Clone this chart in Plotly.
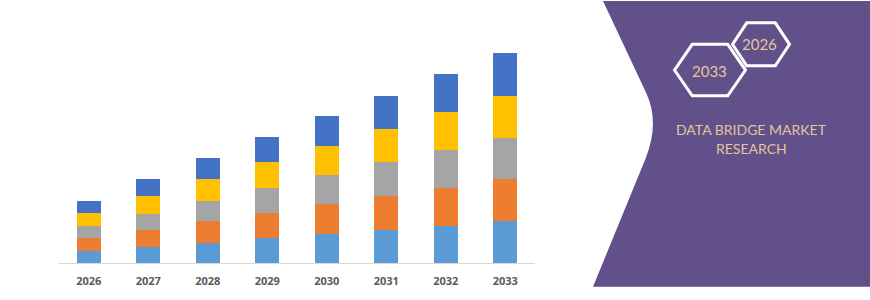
import plotly.graph_objects as go

years = ["2026", "2027", "2028", "2029", "2030", "2031", "2032", "2033"]
seg1 = [1.27, 1.73, 2.10, 2.60, 3.07, 3.43, 3.93, 4.43]   # light blue (bottom)
seg2 = [1.37, 1.77, 2.33, 2.63, 3.10, 3.57, 3.97, 4.40]   # orange
seg3 = [1.23, 1.67, 2.07, 2.60, 3.06, 3.57, 3.93, 4.27]   # gray
seg4 = [1.33, 1.83, 2.33, 2.77, 3.10, 3.50, 4.00, 4.47]   # yellow
seg5 = [1.33, 1.83, 2.17, 2.60, 3.07, 3.50, 4.00, 4.43]   # blue (top)
series = [seg1, seg2, seg3, seg4, seg5]
colors = ["#5B9BD5", "#ED7D31", "#A5A5A5", "#FFC000", "#4472C4"]
names = ["Segment 1", "Segment 2", "Segment 3", "Segment 4", "Segment 5"]

W, H = 870, 300
L, R, T, B = 59, 335, 20, 25
PW, PH = W - L - R, H - T - B

def px(x):
    return (x - L) / PW

def py(y):
    return (H - B - y) / PH

fig = go.Figure()
for vals, c, n in zip(series, colors, names):
    fig.add_trace(go.Bar(x=years, y=vals, name=n, marker=dict(color=c, line=dict(width=0))))

shapes = []
# purple panel
pts = "M {},{} L {},{} Q {},{} {},{} L {},{} L {},{} L {},{} Z".format(
    px(603), py(0), px(646), py(96), px(660), py(127), px(645.7), py(165),
    px(593), py(300), px(870), py(300), px(870), py(0))
shapes.append(dict(type="path", xref="paper", yref="paper", path=pts,
                   fillcolor="#62508B", line=dict(width=0), layer="above"))

def hexagon(cx, cy, w, h):
    v = [(cx - w / 2, cy), (cx - w / 4, cy - h / 2), (cx + w / 4, cy - h / 2),
         (cx + w / 2, cy), (cx + w / 4, cy + h / 2), (cx - w / 4, cy + h / 2)]
    p = "M " + " L ".join("{},{}".format(px(a), py(b)) for a, b in v) + " Z"
    return dict(type="path", xref="paper", yref="paper", path=p,
                line=dict(color="white", width=3), fillcolor="rgba(0,0,0,0)", layer="above")

shapes.append(hexagon(761, 45.5, 57, 45))
shapes.append(hexagon(710, 72.5, 71, 54))

tan = "#E3C59A"
annots = [
    dict(x=px(709), y=py(73), text="2033", font=dict(family="Lato", size=15, color=tan)),
    dict(x=px(759), y=py(45), text="2026", font=dict(family="Lato", size=15, color=tan)),
    dict(x=px(751), y=py(135), text="DATA BRIDGE MARKET", font=dict(family="Lato", size=14, color=tan)),
    dict(x=px(751), y=py(155), text="RESEARCH", font=dict(family="Lato", size=14, color=tan)),
]
for a in annots:
    a.update(xref="paper", yref="paper", showarrow=False, xanchor="center", yanchor="middle")

fig.update_layout(
    width=W, height=H, barmode="stack", bargap=0.6,
    margin=dict(l=L, r=R, t=T, b=B, pad=0),
    plot_bgcolor="white", paper_bgcolor="white",
    showlegend=False, shapes=shapes, annotations=annots,
    xaxis=dict(showline=True, linecolor="#D9D9D9", linewidth=1, showgrid=False,
               ticks="", ticklabelstandoff=8,
               tickfont=dict(family="Open Sans", size=11, color="#595959", weight="bold")),
    yaxis=dict(range=[0, 25.5], visible=False, showgrid=False, zeroline=False),
)
fig.write_html("out.html")
